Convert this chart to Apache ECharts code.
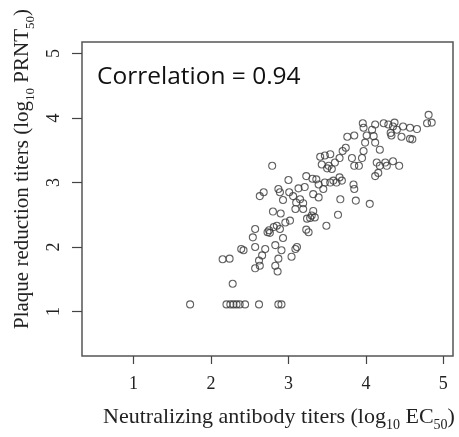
<!DOCTYPE html>
<html><head><meta charset="utf-8">
<script src="https://cdn.jsdelivr.net/npm/echarts@6/dist/echarts.min.js"></script>
<style>html,body{margin:0;padding:0;background:#fff}#c{width:459px;height:437px}</style>
</head><body><div id="c"></div>
<script>
const neutX = [1.73,2.20,2.25,2.29,2.33,2.37,2.44,2.62,2.87,2.91,
2.28,2.15,2.24,2.39,2.42,2.57,2.63,2.62,2.66,2.70,2.57,2.54,2.57,2.73,2.75,2.81,2.85,2.89,2.93,2.83,2.91,2.87,2.83,2.86,
2.80,2.90,3.02,2.96,3.04,3.11,3.09,2.63,2.68,2.79,2.87,2.89,2.93,3.00,3.01,3.06,3.10,3.09,3.13,3.19,3.19,3.24,3.23,3.26,
3.30,3.34,3.32,3.21,3.23,3.31,3.36,3.39,3.32,3.39,3.45,3.47,3.49,3.54,3.58,3.62,3.66,3.69,3.67,3.64,3.84,3.85,3.87,4.05,
3.41,3.47,3.54,3.43,3.52,3.56,3.60,3.66,3.70,3.74,3.76,3.85,3.82,3.85,3.91,3.95,3.97,3.99,4.01,3.97,3.96,4.08,4.10,4.12,
4.12,4.18,4.14,4.18,4.12,4.16,4.25,4.27,4.35,4.43,4.23,4.29,4.32,4.35,4.37,4.33,4.40,4.48,4.57,4.66,4.46,4.57,4.60,4.81,
4.79,4.85,3.15,3.50,2.76,3.28];
const prntY = [1.11,1.11,1.11,1.11,1.11,1.11,1.11,1.11,1.11,1.11,
1.43,1.81,1.82,1.97,1.95,1.67,1.71,1.79,1.87,1.97,2.00,2.15,2.28,2.23,2.26,2.31,2.33,2.28,2.14,2.03,1.95,1.82,1.71,1.62,
2.55,2.52,2.41,2.38,1.85,2.00,1.97,2.79,2.85,3.26,2.90,2.85,2.73,3.04,2.85,2.79,2.69,2.59,2.91,2.68,2.59,2.44,2.27,2.23,
2.49,2.46,2.56,2.93,3.10,3.06,3.05,2.97,2.82,2.77,2.90,3.00,2.33,3.00,3.03,3.00,3.08,3.03,2.74,2.50,2.97,2.90,2.72,2.67,
3.40,3.42,3.44,3.28,3.26,3.21,3.31,3.38,3.49,3.54,3.71,3.73,3.38,3.26,3.26,3.38,3.49,3.62,3.73,3.85,3.92,3.82,3.72,3.62,
3.90,3.51,3.31,3.26,3.10,3.15,3.31,3.26,3.33,3.26,3.92,3.90,3.77,3.87,3.93,3.73,3.82,3.87,3.85,3.83,3.71,3.68,3.67,4.05,
3.92,3.93,2.74,3.22,2.22,2.45];
const xTicks = [1,2,3,4,5];
const yTicks = [1,2,3,4,5];
const annotation = 'Correlation = 0.94';

const pts = neutX.map((x,i)=>[x, prntY[i]]);
const chart = echarts.init(document.getElementById('c'));
const serif = '"Liberation Serif","DejaVu Serif",serif';
const xRich = {n:{fontFamily:serif,fontSize:22,color:'#222',verticalAlign:'bottom'},s:{fontFamily:serif,fontSize:14,color:'#222',verticalAlign:'bottom',padding:[0,0,-4,0]}};
const yRich = {n:{fontFamily:serif,fontSize:21,color:'#222',verticalAlign:'bottom'},s:{fontFamily:serif,fontSize:13,color:'#222',verticalAlign:'bottom',padding:[0,0,-4,0]}};
chart.setOption({
  animation:false,
  grid:{left:82,top:42,right:6,bottom:79,show:true,borderColor:'#555',borderWidth:1.5,backgroundColor:'transparent'},
  xAxis:{type:'value',min:0.334,max:5.125,
    axisLine:{show:false},splitLine:{show:false},
    axisTick:{show:true,length:8,lineStyle:{color:'#444',width:1.2},customValues:xTicks},
    axisLabel:{fontFamily:serif,fontSize:18,color:'#222',margin:19,customValues:xTicks},
    name:'{n|Neutralizing antibody titers (log}{s|10}{n| EC}{s|50}{n|)}',
    nameLocation:'middle',nameGap:50,
    nameTextStyle:{padding:[0,0,0,23],rich:xRich}
  },
  yAxis:{type:'value',min:0.31,max:5.18,
    axisLine:{show:false},splitLine:{show:false},
    axisTick:{show:true,length:10,lineStyle:{color:'#444',width:1.2},customValues:yTicks},
    axisLabel:{fontFamily:serif,fontSize:18,color:'#222',margin:19,rotate:90,customValues:yTicks},
    name:'{n|Plaque reduction titers (log}{s|10}{n| PRNT}{s|50}{n|)}',
    nameLocation:'middle',nameGap:45,nameRotate:90,
    nameTextStyle:{padding:[0,0,0,60],rich:yRich}
  },
  series:[{type:'scatter',data:pts,symbol:'circle',symbolSize:7,
    itemStyle:{color:'rgba(255,255,255,0)',borderColor:'#3a3a3a',borderWidth:1.1}}],
  graphic:[{type:'text',left:97,top:65,style:{text:annotation,font:'24.5px "Open Sans", "Liberation Sans", sans-serif',fill:'#111'}}]
});
</script></body></html>
